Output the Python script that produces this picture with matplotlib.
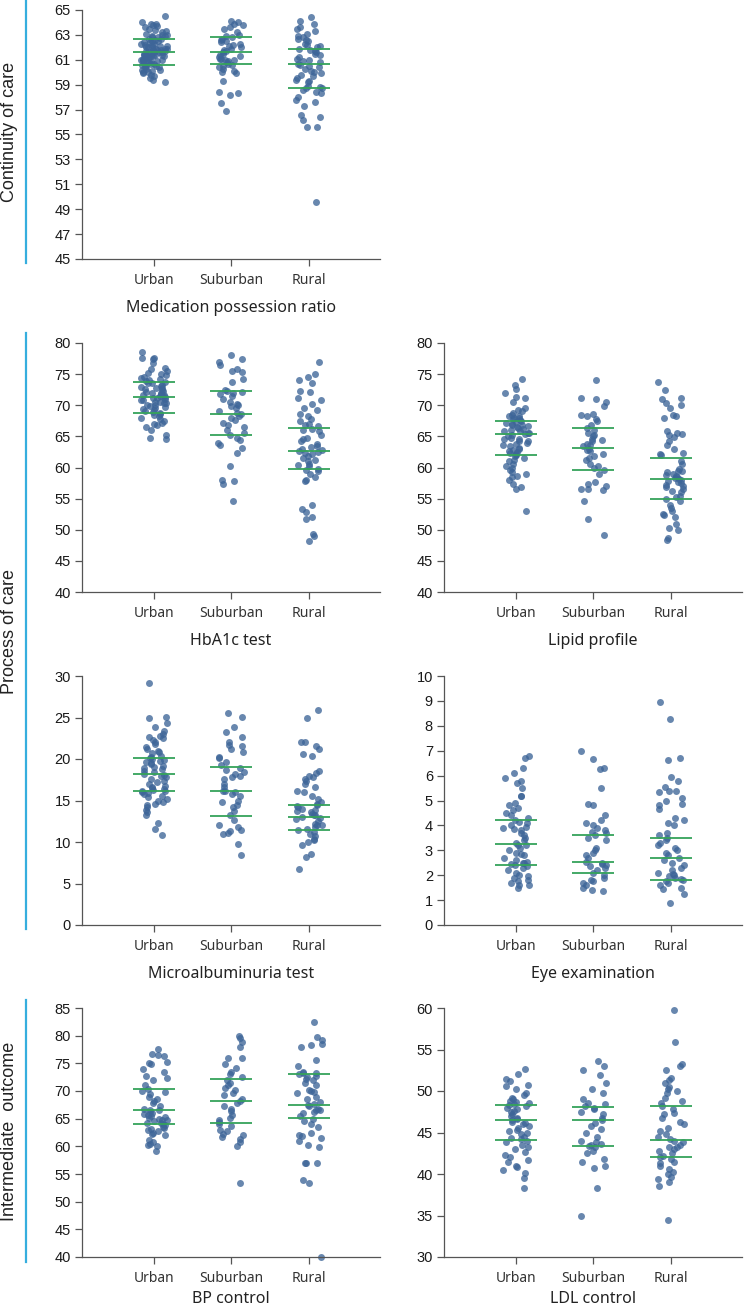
import numpy as np
import matplotlib
matplotlib.use("Agg")
import matplotlib.pyplot as plt
from matplotlib.lines import Line2D

# ---- data ----
groups = ["Urban", "Suburban", "Rural"]

mpr_urban = [64.5, 64.0, 63.9, 63.9, 63.8, 63.7, 63.6, 63.5, 63.4, 63.3, 63.2, 63.1, 63.0, 63.0, 62.9, 62.9,
             62.8, 62.8, 62.7, 62.7, 62.6, 62.5, 62.5, 62.4, 62.4, 62.3, 62.3, 62.2, 62.2, 62.1, 62.1, 62.0,
             62.0, 62.0, 61.9, 61.9, 61.9, 61.8, 61.8, 61.8, 61.7, 61.7, 61.7, 61.6, 61.6, 61.6, 61.6, 61.5,
             61.5, 61.5, 61.4, 61.4, 61.4, 61.3, 61.3, 61.3, 61.2, 61.2, 61.2, 61.1, 61.1, 61.0, 61.0, 61.0,
             60.9, 60.9, 60.8, 60.8, 60.8, 60.7, 60.7, 60.6, 60.6, 60.5, 60.5, 60.4, 60.4, 60.3, 60.2, 60.2,
             60.1, 60.0, 60.0, 59.9, 59.8, 59.7, 59.5, 59.4, 59.2]
mpr_suburban = [64.1, 64.0, 63.9, 63.8, 63.6, 63.5, 63.2, 63.0, 62.9, 62.8, 62.7, 62.6, 62.5, 62.4, 62.3,
                62.2, 62.1, 62.0, 61.9, 61.8, 61.7, 61.6, 61.5, 61.4, 61.3, 61.2, 61.1, 61.1, 61.0, 61.0,
                60.9, 60.8, 60.7, 60.6, 60.5, 60.4, 60.3, 60.1, 60.0, 59.9, 59.3, 58.4, 58.3, 58.2, 57.5, 56.9]
mpr_rural = [64.4, 64.1, 63.9, 63.6, 63.5, 63.3, 63.1, 62.9, 62.8, 62.7, 62.6, 62.5, 62.3, 62.2, 62.1, 62.0,
             61.9, 61.8, 61.7, 61.6, 61.5, 61.4, 61.2, 61.1, 61.0, 60.9, 60.8, 60.7, 60.6, 60.5, 60.4, 60.3,
             60.1, 60.0, 59.9, 59.8, 59.7, 59.5, 59.4, 59.3, 59.2, 58.9, 58.8, 58.7, 58.7, 58.6, 58.4, 58.3,
             58.0, 57.8, 57.6, 57.3, 56.6, 56.4, 56.2, 55.6, 55.6, 49.6]
mpr_quart = [[60.6, 61.65, 62.7], [60.7, 61.6, 62.8], [58.75, 60.65, 61.9]]

hba_urban = [78.5, 77.6, 77.6, 77.5, 76.8, 76.0, 75.8, 75.5, 75.2, 75.0, 74.8, 74.5, 74.3, 74.2, 74.0, 73.9,
             73.8, 73.6, 73.5, 73.3, 73.1, 73.0, 72.8, 72.7, 72.6, 72.4, 72.3, 72.2, 72.0, 71.9, 71.8, 71.7,
             71.6, 71.5, 71.4, 71.3, 71.2, 71.1, 71.0, 70.9, 70.8, 70.6, 70.5, 70.4, 70.3, 70.1, 70.0, 69.8,
             69.7, 69.6, 69.4, 69.2, 69.0, 68.9, 68.8, 68.6, 68.4, 68.2, 68.0, 67.8, 67.5, 67.2, 67.0, 66.8,
             66.5, 66.0, 65.3, 64.8, 64.5]
hba_suburban = [78.0, 77.5, 77.0, 76.5, 75.8, 75.5, 75.3, 74.2, 73.8, 72.5, 72.3, 72.2, 72.0, 71.8, 71.5,
                71.0, 70.5, 70.2, 70.0, 69.8, 69.5, 69.0, 68.8, 68.6, 68.3, 68.0, 67.6, 67.2, 66.8, 66.5,
                66.0, 65.6, 65.2, 64.8, 64.4, 64.0, 63.6, 63.2, 62.3, 60.3, 58.0, 57.9, 57.3, 54.6]
hba_rural = [77.0, 75.0, 74.5, 74.0, 73.6, 72.3, 72.2, 71.2, 70.8, 70.2, 69.5, 69.3, 68.6, 68.2, 67.8, 67.5,
             67.0, 66.8, 66.6, 66.2, 66.0, 65.8, 65.3, 64.8, 64.5, 64.2, 63.8, 63.5, 63.3, 63.0, 62.8, 62.7,
             62.5, 62.3, 62.2, 61.8, 61.5, 61.2, 61.0, 60.6, 60.4, 60.2, 59.8, 59.6, 59.4, 59.0, 58.4, 58.0,
             57.9, 53.9, 53.3, 52.9, 52.0, 51.7, 49.3, 49.0, 48.2]
hba_quart = [[68.75, 71.4, 73.7], [65.2, 68.55, 72.3], [59.7, 62.7, 66.3]]

lip_urban = [74.2, 73.3, 72.6, 72.0, 71.3, 71.2, 70.5, 69.6, 69.2, 69.0, 68.8, 68.5, 68.3, 68.2, 68.0, 67.9,
             67.8, 67.6, 67.5, 67.3, 67.2, 67.0, 66.9, 66.8, 66.6, 66.5, 66.3, 66.2, 66.0, 65.9, 65.8, 65.6,
             65.5, 65.4, 65.2, 65.0, 64.8, 64.6, 64.5, 64.3, 64.2, 64.0, 63.8, 63.6, 63.4, 63.2, 63.0, 62.8,
             62.6, 62.5, 62.3, 62.2, 62.0, 61.8, 61.5, 61.2, 61.0, 60.6, 60.2, 60.0, 59.6, 59.3, 59.0, 58.7,
             58.5, 58.0, 57.3, 56.8, 56.5, 53.0]
lip_suburban = [74.0, 71.2, 71.0, 70.5, 69.8, 68.6, 68.4, 68.2, 67.8, 67.4, 66.8, 66.4, 66.0, 65.6, 65.3,
                65.0, 64.6, 64.4, 64.2, 63.8, 63.6, 63.4, 63.0, 62.8, 62.6, 62.2, 61.8, 61.5, 61.2, 60.6,
                60.2, 60.0, 59.6, 59.0, 57.6, 57.3, 57.1, 56.6, 56.5, 56.4, 54.6, 51.7, 49.2]
lip_rural = [73.8, 72.4, 71.2, 71.0, 70.3, 70.0, 69.6, 68.5, 68.2, 68.0, 65.8, 65.6, 65.4, 65.2, 64.9, 64.3,
             63.6, 63.0, 62.4, 62.1, 62.0, 61.0, 60.6, 59.8, 59.5, 59.4, 59.2, 59.0, 58.8, 58.7, 58.5, 58.3,
             58.2, 58.0, 57.8, 57.6, 57.5, 57.2, 57.0, 56.8, 56.5, 56.2, 56.0, 55.5, 55.2, 55.0, 54.6, 54.0,
             53.5, 53.0, 52.6, 52.3, 52.0, 51.0, 50.3, 49.9, 48.6, 48.3]
lip_quart = [[62.0, 65.4, 67.5], [59.6, 63.2, 66.3], [54.95, 58.15, 61.5]]

mic_urban = [29.1, 25.1, 25.0, 24.3, 23.8, 23.4, 23.0, 22.8, 22.7, 22.5, 22.3, 22.0, 21.8, 21.5, 21.2, 21.0,
             20.8, 20.7, 20.4, 20.2, 20.1, 20.0, 19.9, 19.8, 19.6, 19.5, 19.4, 19.2, 19.0, 18.9, 18.8, 18.6,
             18.4, 18.2, 18.1, 18.0, 17.8, 17.6, 17.4, 17.2, 17.0, 16.8, 16.6, 16.5, 16.4, 16.3, 16.2, 16.1,
             16.0, 15.9, 15.8, 15.6, 15.4, 15.2, 15.0, 14.8, 14.6, 14.5, 14.2, 13.8, 13.6, 13.2, 12.3, 11.6,
             10.9]
mic_suburban = [25.5, 25.1, 23.8, 23.2, 22.6, 22.1, 21.7, 21.6, 21.2, 20.8, 20.3, 20.1, 19.6, 19.3, 18.9,
                18.7, 18.4, 18.2, 18.0, 17.8, 17.6, 17.0, 16.6, 16.2, 16.1, 16.0, 15.8, 15.5, 15.0, 14.8,
                14.5, 14.2, 13.7, 13.2, 12.7, 12.0, 11.8, 11.5, 11.3, 11.1, 11.0, 9.7, 8.4]
mic_rural = [25.9, 25.0, 22.1, 22.0, 21.6, 21.2, 20.6, 20.4, 18.6, 18.3, 18.0, 17.8, 17.6, 17.3, 17.0, 16.6,
             16.2, 16.0, 15.6, 15.2, 14.8, 14.6, 14.5, 14.3, 14.2, 14.0, 13.8, 13.7, 13.6, 13.4, 13.3, 13.2,
             13.0, 12.9, 12.8, 12.5, 12.2, 12.1, 12.0, 11.8, 11.6, 11.4, 11.2, 11.0, 10.7, 10.4, 10.2, 10.0,
             9.6, 8.5, 8.2, 6.7]
mic_quart = [[16.2, 18.15, 20.1], [13.1, 16.1, 19.0], [11.5, 13.0, 14.5]]

eye_urban = [6.8, 6.7, 6.3, 6.1, 5.9, 5.8, 5.7, 5.5, 5.2, 5.2, 4.9, 4.8, 4.7, 4.6, 4.5, 4.4, 4.3, 4.2, 4.15,
             4.1, 4.0, 3.95, 3.9, 3.85, 3.8, 3.7, 3.6, 3.5, 3.4, 3.3, 3.2, 3.2, 3.1, 3.0, 2.9, 2.85, 2.8,
             2.7, 2.6, 2.55, 2.5, 2.5, 2.45, 2.4, 2.35, 2.3, 2.2, 2.1, 2.0, 1.95, 1.9, 1.8, 1.75, 1.7, 1.6,
             1.6, 1.5]
eye_suburban = [7.0, 6.65, 6.3, 6.25, 5.5, 4.85, 4.8, 4.4, 4.2, 4.1, 4.0, 3.9, 3.8, 3.75, 3.7, 3.6, 3.5,
                3.4, 3.1, 3.0, 2.9, 2.8, 2.7, 2.55, 2.5, 2.45, 2.4, 2.35, 2.3, 2.2, 2.1, 2.0, 1.9, 1.8,
                1.75, 1.7, 1.6, 1.5, 1.4, 1.35]
eye_rural = [8.95, 8.27, 6.72, 6.62, 5.93, 5.8, 5.55, 5.4, 5.4, 5.35, 5.1, 5.0, 4.85, 4.8, 4.65, 4.3, 4.2,
             4.1, 4.0, 3.7, 3.6, 3.5, 3.4, 3.3, 3.2, 3.1, 3.0, 2.9, 2.8, 2.7, 2.6, 2.5, 2.4, 2.3, 2.2, 2.1,
             2.05, 2.0, 1.95, 1.9, 1.85, 1.8, 1.75, 1.7, 1.6, 1.5, 1.45, 1.25, 0.9]
eye_quart = [[2.42, 3.27, 4.22], [2.08, 2.54, 3.63], [1.8, 2.7, 3.5]]

bp_urban = [77.6, 76.7, 76.5, 76.4, 75.2, 75.0, 74.8, 74.0, 73.5, 72.8, 72.3, 72.0, 71.0, 70.3, 70.0, 69.8,
            69.5, 69.0, 68.5, 68.2, 67.8, 67.3, 66.8, 66.6, 66.5, 66.2, 66.0, 65.8, 65.7, 65.5, 65.3, 65.2,
            65.0, 64.8, 64.7, 64.5, 64.3, 64.2, 64.0, 63.8, 63.5, 63.3, 63.2, 63.0, 62.8, 62.5, 62.2, 62.0,
            61.2, 60.8, 60.4, 60.2, 60.0, 59.2]
bp_suburban = [80.0, 79.6, 78.9, 78.0, 76.0, 76.0, 74.8, 74.2, 73.5, 73.0, 72.5, 72.0, 71.5, 71.0, 70.5,
               70.2, 69.6, 69.2, 68.6, 68.2, 67.8, 67.2, 66.8, 66.4, 65.6, 65.2, 64.8, 64.4, 64.0, 63.6,
               63.0, 62.8, 62.3, 62.0, 61.6, 61.3, 60.8, 60.1, 53.4]
bp_rural = [82.5, 79.8, 79.3, 78.5, 78.3, 78.0, 75.6, 74.5, 73.5, 73.3, 73.2, 73.0, 72.8, 72.5, 72.2, 72.0,
            71.5, 71.0, 70.2, 70.0, 69.8, 69.6, 69.0, 68.5, 68.0, 67.6, 67.4, 67.2, 66.8, 66.6, 66.5, 66.2,
            66.0, 65.5, 65.0, 64.6, 64.0, 63.5, 62.5, 62.0, 61.8, 61.5, 61.0, 60.2, 59.8, 57.0, 56.9, 56.9,
            54.0, 53.3, 40.0]
bp_quart = [[64.05, 66.55, 70.35], [64.15, 68.15, 72.2], [65.05, 67.45, 73.0]]

ldl_urban = [52.6, 52.0, 51.4, 51.2, 50.7, 50.6, 50.2, 49.8, 49.5, 49.2, 49.0, 48.8, 48.7, 48.6, 48.4, 48.3,
             48.2, 48.0, 47.8, 47.6, 47.5, 47.2, 47.0, 46.8, 46.6, 46.5, 46.3, 46.2, 46.0, 45.8, 45.5, 45.3,
             45.2, 45.0, 44.8, 44.5, 44.3, 44.2, 44.0, 43.8, 43.5, 43.2, 43.0, 42.7, 42.3, 42.0, 41.7, 41.4,
             41.0, 40.9, 40.5, 40.1, 39.5, 38.3]
ldl_suburban = [53.6, 53.0, 52.5, 51.9, 51.0, 50.2, 49.8, 49.0, 48.6, 48.4, 48.2, 48.0, 47.8, 47.5, 47.2,
                46.8, 46.5, 46.2, 45.8, 45.4, 45.0, 44.5, 44.0, 43.8, 43.6, 43.5, 43.4, 43.2, 42.8, 42.5,
                41.8, 41.5, 41.0, 40.7, 38.3, 34.9]
ldl_rural = [59.8, 55.9, 53.2, 53.0, 52.5, 51.6, 51.3, 51.0, 50.5, 50.3, 50.0, 49.7, 49.2, 48.8, 48.5, 48.2,
             47.8, 47.4, 47.2, 46.8, 46.3, 46.0, 45.6, 45.2, 44.8, 44.5, 44.2, 44.0, 43.8, 43.5, 43.3, 43.2,
             43.0, 42.8, 42.5, 42.2, 42.0, 41.8, 41.5, 41.3, 41.0, 40.6, 40.2, 40.0, 39.6, 39.4, 39.0, 38.6,
             34.4]
ldl_quart = [[44.1, 46.55, 48.35], [43.4, 46.55, 48.05], [42.0, 44.05, 48.2]]

# ---- styling ----
W, H = 744, 1310
DOT = "#3d6598"
GREEN = "#35a35a"
BLUE = "#36aede"
TICK_FONT = "Liberation Sans"
CAT_FONT = "Noto Sans"

fig = plt.figure(figsize=(W / 100, H / 100), dpi=100)


def px_axes(x0, top, w, h):
    return fig.add_axes([x0 / W, 1 - (top + h) / H, w / W, h / H])


def spread(n, k):
    # deterministic scatter of x offsets in [-0.5, 0.5]
    i = np.arange(n) + 1 + 37 * k
    return (np.sin(i * 12.9898) * 43758.5453) % 1.0 - 0.5


def panel(ax, series, quart, ylim, yticks, xlabel, k, labelpad=9):
    for i, vals in enumerate(series):
        vals = np.asarray(vals)
        jit = spread(len(vals), k * 3 + i) * 0.34
        ax.scatter(i + jit, vals, s=25, color=DOT, alpha=0.78, linewidths=0, zorder=2, clip_on=False)
        for q in quart[i]:
            ax.hlines(q, i - 0.27, i + 0.27, color=GREEN, lw=1.3, zorder=3)
    ax.set_xlim(-0.93, 2.92)
    ax.set_ylim(*ylim)
    ax.set_yticks(yticks)
    ax.set_xticks(range(len(groups)))
    ax.set_xticklabels(groups, fontfamily=CAT_FONT, fontsize=10, color="#333333")
    for lab in ax.get_yticklabels():
        lab.set_fontfamily(TICK_FONT)
        lab.set_fontsize(10.5)
        lab.set_color("#1a1a1a")
    ax.set_xlabel(xlabel, fontfamily=CAT_FONT, fontsize=11.5, color="#222222", labelpad=labelpad)
    for s in ["top", "right"]:
        ax.spines[s].set_visible(False)
    for s in ["left", "bottom"]:
        ax.spines[s].set_color("#555555")
        ax.spines[s].set_linewidth(0.9)
    ax.tick_params(axis="y", length=5, width=0.9, color="#555555", pad=3)
    ax.tick_params(axis="x", length=5, width=0.9, color="#555555", pad=5)
    ax.patch.set_alpha(0)


LX, RX, AW, AH = 82, 444, 298, 249
tops = [10, 343, 676, 1008]

ax = px_axes(LX, tops[0], AW, AH)
panel(ax, [mpr_urban, mpr_suburban, mpr_rural], mpr_quart, (45, 65), range(45, 66, 2),
      "Medication possession ratio", 0)

ax = px_axes(LX, tops[1], AW, AH)
panel(ax, [hba_urban, hba_suburban, hba_rural], hba_quart, (40, 80), range(40, 81, 5), "HbA1c test", 1)
ax = px_axes(RX, tops[1], AW, AH)
panel(ax, [lip_urban, lip_suburban, lip_rural], lip_quart, (40, 80), range(40, 81, 5), "Lipid profile", 2)

ax = px_axes(LX, tops[2], AW, AH)
panel(ax, [mic_urban, mic_suburban, mic_rural], mic_quart, (0, 30), range(0, 31, 5),
      "Microalbuminuria test", 3)
ax = px_axes(RX, tops[2], AW, AH)
panel(ax, [eye_urban, eye_suburban, eye_rural], eye_quart, (0, 10), range(0, 11, 1), "Eye examination", 4)

ax = px_axes(LX, tops[3], AW, AH)
panel(ax, [bp_urban, bp_suburban, bp_rural], bp_quart, (40, 85), range(40, 86, 5), "BP control", 5,
      labelpad=4)
ax = px_axes(RX, tops[3], AW, AH)
panel(ax, [ldl_urban, ldl_suburban, ldl_rural], ldl_quart, (30, 60), range(30, 61, 5), "LDL control", 6,
      labelpad=4)

# group labels with blue bars on the left
sections = [("Continuity of care", 0, 263), ("Process of care", 333, 929), ("Intermediate  outcome", 1000, 1262)]
for name, y0, y1 in sections:
    fig.add_artist(Line2D([26 / W, 26 / W], [1 - y0 / H, 1 - y1 / H], color=BLUE, lw=1.6))
    fig.text(10 / W, 1 - (y0 + y1) / 2 / H, name, rotation=90, ha="center", va="center",
             fontfamily=TICK_FONT, fontsize=13, color="#222222")

fig.savefig("out.png", dpi=100)
